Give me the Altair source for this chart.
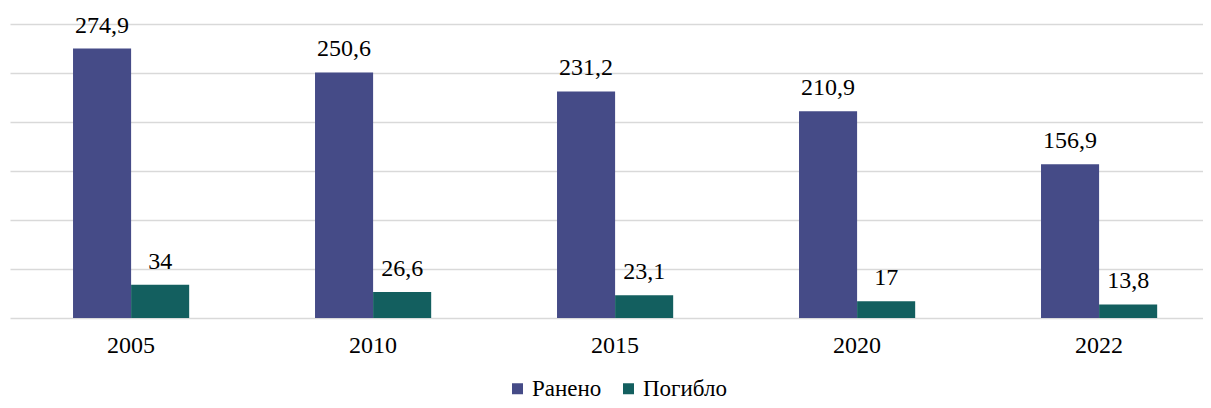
import altair as alt
import pandas as pd

years = ["2005", "2010", "2015", "2020", "2022"]
series = ["Ранено", "Погибло"]
injured = [274.9, 250.6, 231.2, 210.9, 156.9]
killed = [34, 26.6, 23.1, 17, 13.8]
colors = ["#454B87", "#135F5F"]

rows = []
for i, y in enumerate(years):
    for s, vals in zip(series, [injured, killed]):
        v = vals[i]
        rows.append({"year": y, "series": s, "value": v,
                     "label": f"{v:g}".replace(".", ",")})
df = pd.DataFrame(rows)

FONT = "'Liberation Serif', 'Times New Roman', serif"

x_enc = alt.X("year:N", sort=years,
              scale=alt.Scale(paddingInner=0.52, paddingOuter=0.2249, align=0.579),
              axis=alt.Axis(title=None, labelAngle=0, domain=False, ticks=False,
                            labelFont=FONT, labelFontSize=24, labelColor="#000000",
                            labelPadding=15))
xoff = alt.XOffset("series:N", sort=series,
                   scale=alt.Scale(paddingInner=0, paddingOuter=0))
y_enc = alt.Y("value:Q",
              scale=alt.Scale(domain=[0, 300], nice=False),
              axis=alt.Axis(title=None, labels=False, ticks=False, domain=False,
                            values=[0, 50, 100, 150, 200, 250, 300],
                            grid=True, gridColor="#d9d9d9", gridWidth=1.5))

base = alt.Chart(df)

bars = base.mark_bar().encode(
    x=x_enc, xOffset=xoff, y=y_enc,
    color=alt.Color("series:N", sort=series,
                    scale=alt.Scale(domain=series, range=colors),
                    legend=alt.Legend(title=None, orient="none", direction="horizontal",
                                      legendX=496, legendY=353,
                                      symbolType="square", symbolSize=121,
                                      symbolStrokeWidth=0, symbolOpacity=1,
                                      labelFont=FONT, labelFontSize=23,
                                      labelColor="#000000", labelOffset=3,
                                      columnPadding=15)),
)

texts = base.mark_text(font=FONT, fontSize=24, color="#000000",
                       baseline="alphabetic", dy=-16).encode(
    x=x_enc, xOffset=xoff, y=y_enc, text="label:N"
)

chart = alt.layer(bars, texts).properties(
    width=1193, height=294,
    autosize=alt.AutoSizeParams(type="none"),
    padding={"left": 2, "top": 16, "right": 0, "bottom": 82},
).configure_view(stroke=None)

chart.save("out.html", embed_options={"renderer": "svg", "actions": False})
